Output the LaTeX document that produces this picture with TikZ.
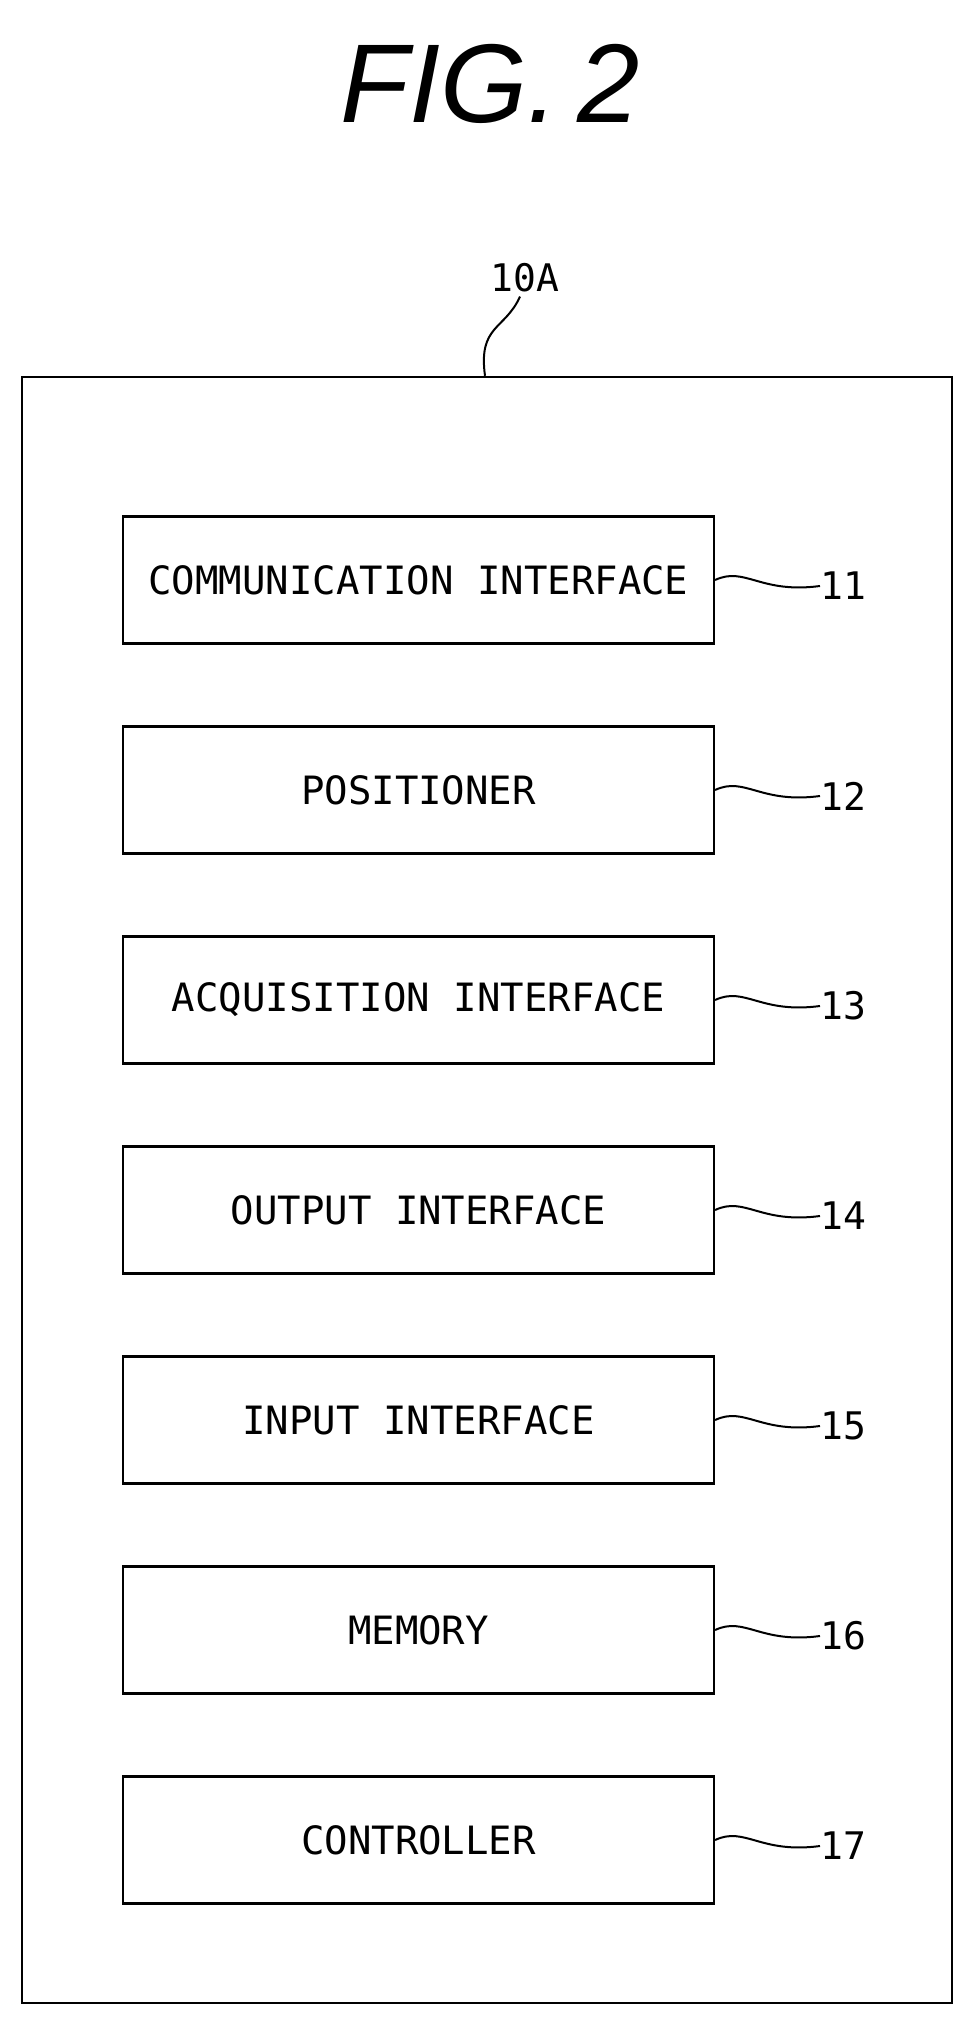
\documentclass[tikz,border=0pt]{standalone}
\usepackage{fontspec}
\setmainfont{DejaVu Sans Mono}
\newfontfamily\titlefont{Liberation Sans}
\begin{document}
\begin{tikzpicture}[x=1pt,y=-1pt,
  blk/.style={draw,line width=2.2pt,minimum width=591pt,minimum height=127pt,inner sep=0pt,font=\fontsize{39}{39}\selectfont},
  lbl/.style={font=\fontsize{38}{38}\selectfont,anchor=west,inner sep=0pt},
  lead/.style={line width=2pt}]
\useasboundingbox (0,0) rectangle (968,2025);
\node[font=\titlefont\itshape\fontsize{112}{112}\selectfont] (title) at (490,84) {FIG.\,2};
\node[draw,line width=2.4pt,minimum width=930pt,minimum height=1626pt,inner sep=0pt] (outer) at (487,1190) {};
\node[lbl,anchor=center] (l10) at (525,278) {10A};
\draw[lead] (l10.south) ++(-5,4) coordinate (c10) .. controls (505,330) and (478,325) .. (outer.north -| 485,0);
\foreach \i/\t [count=\k] in {11/COMMUNICATION INTERFACE,12/POSITIONER,13/ACQUISITION INTERFACE,14/OUTPUT INTERFACE,15/INPUT INTERFACE,16/MEMORY,17/CONTROLLER}{
  \pgfmathsetmacro\yy{580+210*(\k-1)}
  \node[blk] (b\i) at (418.5,\yy) {\t};
  \node[lbl] (n\i) at (820,\yy+6) {\i};
  \draw[lead] (b\i.east) .. controls (745,\yy-14) and (760,\yy+14) .. (n\i.west);
}
\end{tikzpicture}
\end{document}
